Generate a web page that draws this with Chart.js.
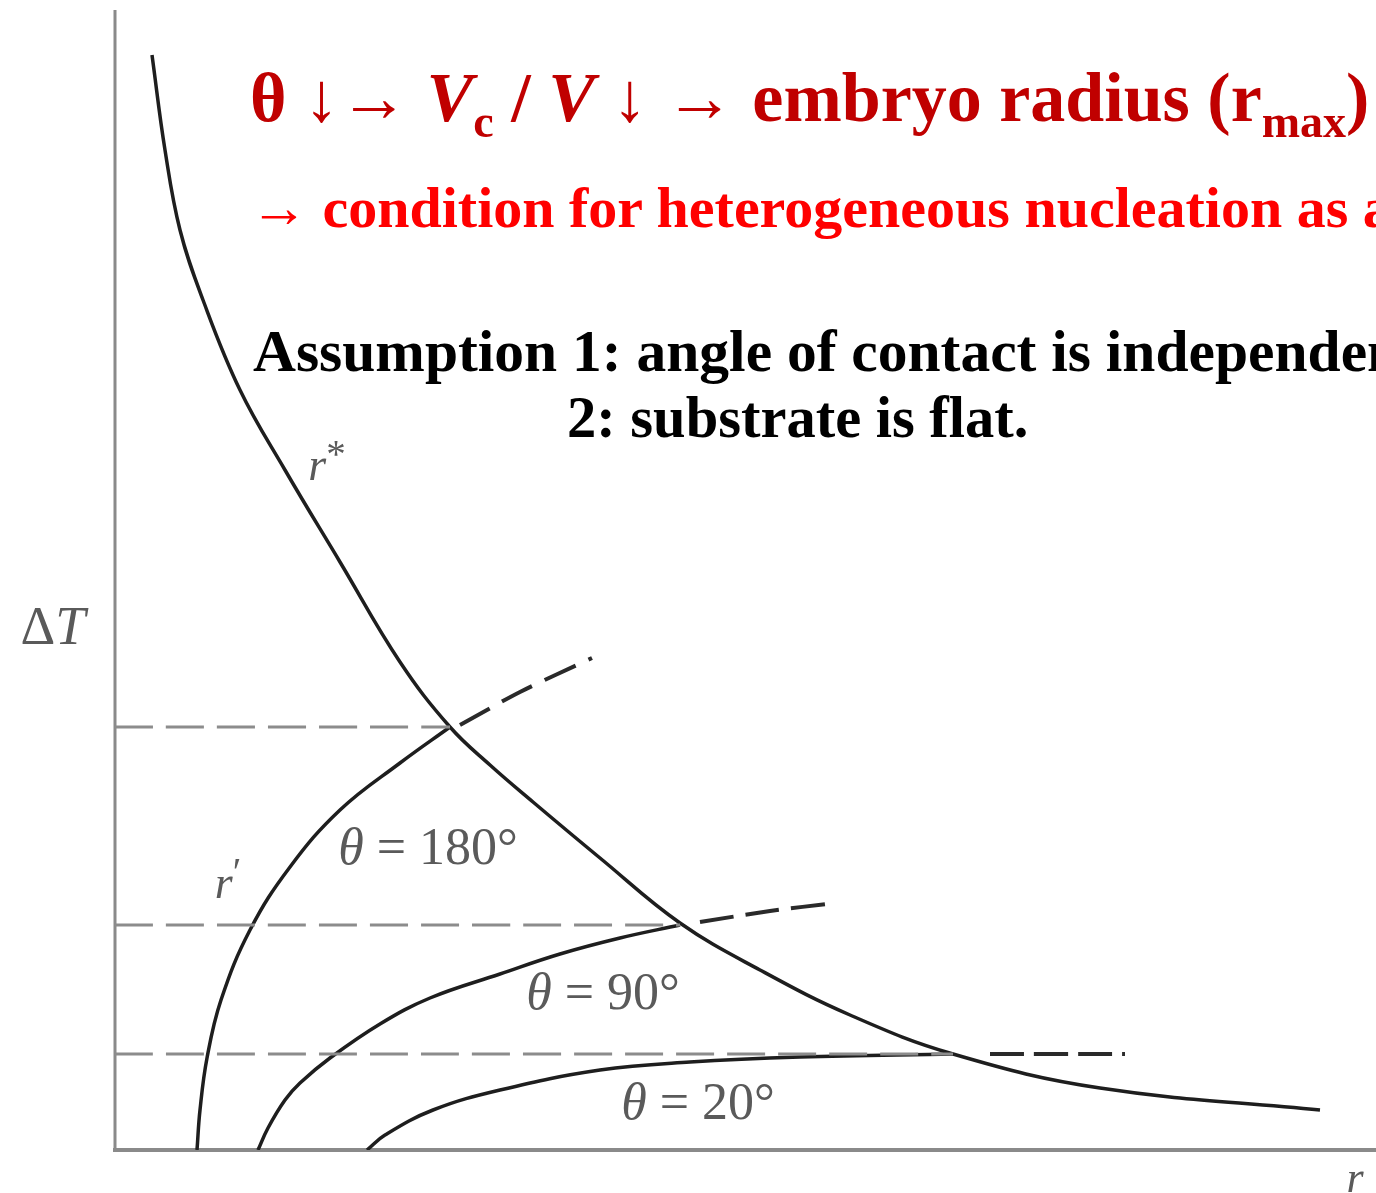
<!DOCTYPE html>
<html>
<head>
<meta charset="utf-8">
<script src="https://cdn.jsdelivr.net/npm/chart.js@4.4.1/dist/chart.umd.min.js"></script>
<style>
  html, body { margin:0; padding:0; background:#fff; width:1376px; height:1193px; overflow:hidden; }
  #wrap { position:relative; width:1376px; height:1193px; }
  canvas { position:absolute; left:0; top:0; }
  .txt { position:absolute; white-space:nowrap; font-family:"Liberation Serif","Times New Roman",serif; font-weight:bold; line-height:1; }
  .l1 { left:250px; top:63px; font-size:70px; color:#c00000; }
  .l2 { left:250px; top:179px; font-size:58px; color:#ff0000; }
  .l3 { left:253px; top:322px; font-size:59.5px; color:#000; }
  .l4 { left:567px; top:389px; font-size:58.5px; color:#000; }
  .sub { font-size:46px; position:relative; top:16px; }
</style>
</head>
<body>
<div id="wrap">
  <canvas id="nucChart" width="1376" height="1193"></canvas>
  <div class="txt l1">θ ↓→ <i>V</i><span class="sub">c</span> / <i>V</i> ↓ → embryo radius (r<span class="sub">max</span>)</div>
  <div class="txt l2">→ condition for heterogeneous nucleation as a</div>
  <div class="txt l3">Assumption 1: angle of contact is independent</div>
  <div class="txt l4">2: substrate is flat.</div>
</div>
<script>
// r* curve (critical radius vs undercooling)
const rStarR = [0.37, 0.50, 0.65, 0.88, 1.25, 1.70, 2.25, 2.85, 3.35, 3.75, 4.18, 4.85, 5.65, 6.45, 7.35, 8.38, 9.85, 12.05];
const rStarT = [10.95, 10.00, 9.20, 8.50, 7.60, 6.80, 5.88, 4.88, 4.23, 3.85, 3.48, 2.92, 2.27, 1.80, 1.35, 0.96, 0.62, 0.40];

// r' curves for each contact angle
const r180R = [0.82, 0.85, 0.92, 1.06, 1.35, 1.75, 2.25, 2.85, 3.35];
const r180T = [0.00, 0.40, 0.92, 1.50, 2.20, 2.83, 3.40, 3.87, 4.23];
const r90R = [1.43, 1.53, 1.70, 1.85, 2.15, 2.65, 3.15, 3.85, 4.45, 5.05, 5.65];
const r90T = [0.00, 0.22, 0.50, 0.67, 0.92, 1.26, 1.52, 1.76, 1.96, 2.12, 2.25];
const r20R = [2.52, 2.70, 3.18, 3.85, 4.85, 5.75, 6.85, 8.38];
const r20T = [0.00, 0.15, 0.40, 0.60, 0.80, 0.88, 0.93, 0.96];

// dashed continuations past the intersection with r*
const c180R = [3.45, 4.05, 4.77];
const c180T = [4.25, 4.58, 4.92];
const c90R = [5.85, 6.55, 7.20];
const c90T = [2.28, 2.39, 2.47];
const c20R = [8.75, 10.10];
const c20T = [0.96, 0.96];

// horizontal undercooling levels
const levelT = [4.23, 2.25, 0.96];
const levelEndR = [3.35, 5.65, 8.38];

const zip = (xs, ys) => xs.map((x, i) => ({ x: x, y: ys[i] }));

function solid(data) {
  return { data: data, borderColor: '#1e1e1e', borderWidth: 3.5, pointRadius: 0,
           tension: 0.4, fill: false };
}
function dashed(data, color, width, dash) {
  return { data: data, borderColor: color, borderWidth: width, pointRadius: 0,
           borderDash: dash, tension: 0.3, fill: false };
}

const datasets = [];
levelT.forEach((t, i) => {
  datasets.push(dashed([{ x: 0, y: t }, { x: levelEndR[i], y: t }], '#8c8c8c', 3, [38, 13]));
});
datasets.push(solid(zip(rStarR, rStarT)));
datasets.push(solid(zip(r180R, r180T)));
datasets.push(solid(zip(r90R, r90T)));
datasets.push(solid(zip(r20R, r20T)));
datasets.push(dashed(zip(c180R, c180T), '#2a2a2a', 4, [34, 14]));
datasets.push(dashed(zip(c90R, c90T), '#2a2a2a', 4, [34, 12]));
datasets.push(dashed(zip(c20R, c20T), '#2a2a2a', 4, [34, 10]));

// labels placed in data coordinates
const labels = [
  { r: -0.62, t: 5.20, parts: [['Δ', 'normal'], ['T', 'italic']], size: 54 },
  { r: 12.40, t: -0.30, parts: [['r', 'italic']], size: 44 },
  { r: 2.12, t: 6.82, parts: [['r', 'italic'], ['*', 'sup']], size: 46 },
  { r: 1.13, t: 2.64, parts: [['r', 'italic'], ['′', 'sup']], size: 46 },
  { r: 3.13, t: 3.00, parts: [['θ', 'italic'], [' = 180°', 'normal']], size: 52 },
  { r: 4.88, t: 1.55, parts: [['θ', 'italic'], [' = 90°', 'normal']], size: 52 },
  { r: 5.83, t: 0.45, parts: [['θ', 'italic'], [' = 20°', 'normal']], size: 52 }
];

const axesAndLabels = {
  id: 'axesAndLabels',
  beforeDatasetsDraw(chart) {
    const ctx = chart.ctx, xs = chart.scales.x, ys = chart.scales.y;
    const x0 = xs.getPixelForValue(0), y0 = ys.getPixelForValue(0);
    ctx.save();
    ctx.strokeStyle = '#8a8a8a';
    ctx.lineWidth = 3;
    ctx.beginPath();
    ctx.moveTo(x0, ys.getPixelForValue(ys.max));
    ctx.lineTo(x0, y0);
    ctx.stroke();
    ctx.lineWidth = 4;
    ctx.beginPath();
    ctx.moveTo(x0 - 2, y0);
    ctx.lineTo(xs.getPixelForValue(xs.max), y0);
    ctx.stroke();
    ctx.restore();
  },
  afterDraw(chart) {
    const ctx = chart.ctx, xs = chart.scales.x, ys = chart.scales.y;
    ctx.save();
    ctx.fillStyle = '#5a5a5a';
    ctx.textBaseline = 'middle';
    labels.forEach(lb => {
      const fontFor = (style) => {
        if (style === 'italic') return 'italic ' + lb.size + 'px "Liberation Serif"';
        if (style === 'sup') return Math.round(lb.size * 0.85) + 'px "Liberation Serif"';
        return lb.size + 'px "Liberation Serif"';
      };
      let total = 0;
      lb.parts.forEach(p => { ctx.font = fontFor(p[1]); total += ctx.measureText(p[0]).width; });
      let x = xs.getPixelForValue(lb.r) - total / 2;
      const y = ys.getPixelForValue(lb.t);
      lb.parts.forEach(p => {
        ctx.font = fontFor(p[1]);
        ctx.textAlign = 'left';
        ctx.fillText(p[0], x, p[1] === 'sup' ? y - lb.size * 0.25 : y);
        x += ctx.measureText(p[0]).width;
      });
    });
    ctx.restore();
  }
};

new Chart(document.getElementById('nucChart'), {
  type: 'line',
  data: { datasets: datasets },
  options: {
    responsive: false,
    devicePixelRatio: 1,
    animation: false,
    layout: { padding: { left: 115, right: 0, top: 10, bottom: 43 } },
    plugins: { legend: { display: false }, tooltip: { enabled: false } },
    scales: {
      x: { type: 'linear', min: 0, max: 12.61, display: false },
      y: { type: 'linear', min: 0, max: 11.40, display: false }
    }
  },
  plugins: [axesAndLabels]
});
</script>
</body>
</html>
